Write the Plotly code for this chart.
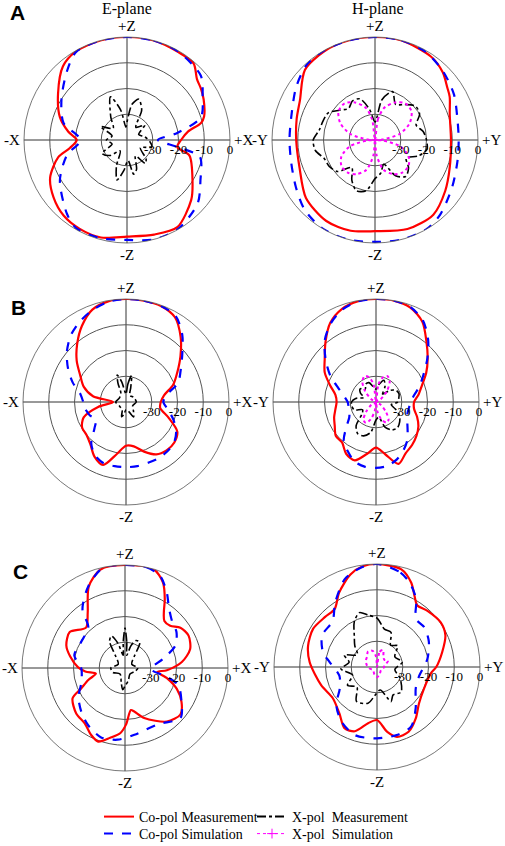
import plotly.graph_objects as go

W, H = 505, 846
R = 103  # polar radius in px

# ---------------- data: (theta deg clockwise from +Z, level dB) ----------------
# Panel A, E-plane
ae_co_meas = [(0, 0), (15, 0), (30, -0.5), (41, -0.6), (49, -4), (55, -5), (62, -6.3), (73, -8.7), (77, -10.5),
              (82, -16), (90, -19), (98, -20.3), (104, -15), (122, -10), (133, -5.9), (150, -0.9), (164, -1.8),
              (180, -2.5), (195, -0.8), (208, -0.9), (220, -1.7), (232, -3.8), (244, -6.8), (256, -12.5),
              (262, -17.6), (270, -20.5), (278, -17), (289, -12.4), (304, -7.7), (319, -2.1), (330, -0.3), (345, 0)]
ae_co_sim = [(0, 0), (15, 0), (30, -0.3), (49, -2), (60, -6.1), (73, -10), (82, -20.3), (90, -28), (98, -20),
             (103, -11), (119, -7.4), (132, -3.1), (150, -0.2), (165, 0), (180, -1.2), (195, -0.5), (210, -0.5),
             (219, -3), (239, -9.6), (256, -16), (270, -22), (285, -14.5), (302, -10), (319, -4.5), (330, -0.5),
             (345, 0)]
ae_x_meas = [(0, -33), (8, -26), (16, -23.5), (26, -27), (35, -34), (50, -31), (65, -35), (80, -33), (95, -31),
             (106, -30), (120, -34), (135, -29.5), (142, -28.5), (152, -33), (162, -28), (169, -26.5), (177, -32),
             (186, -28), (194, -24), (202, -29), (212, -35), (228, -31), (242, -29), (255, -34), (270, -32),
             (285, -34), (297, -28.5), (310, -33), (325, -29), (339, -22), (348, -28), (355, -35)]

# Panel A, H-plane
ah_co_meas = [(0, 0), (15, 0), (34, -1), (45, -2.8), (54, -5.3), (60, -6.5), (71, -9.3), (90, -10.5), (110, -9.1),
              (126, -6.3), (142, -3.2), (160, -3.2), (180, -4.6), (195, -3.5), (211, -3.3), (230, -5), (250, -8.8),
              (270, -9.4), (285, -8.5), (298, -7), (315, -1.5), (330, -0.3), (345, 0)]
ah_co_sim = [(0, 0), (15, 0), (30, -0.5), (45, -2.5), (60, -4.6), (76, -7), (90, -7.5), (105, -6.9), (122, -4.8),
             (139, -1.5), (150, 0), (165, 0), (180, -0.4), (195, 0), (210, 0), (225, -1.5), (239, -4.2),
             (255, -6.3), (270, -6.8), (285, -6.3), (304, -3.1), (318, -0.5), (330, 0), (345, 0)]
ah_x_meas = [(0, -33), (10, -24), (20, -20), (30, -24), (40, -22), (50, -19.5), (60, -20), (70, -23), (80, -21),
             (90, -20), (100, -19.5), (110, -22), (120, -26), (130, -23), (140, -21.5), (150, -24), (160, -30),
             (170, -27), (180, -25), (190, -20), (200, -19), (210, -22), (220, -26), (230, -21), (240, -19.5),
             (250, -19), (260, -16.5), (270, -16), (280, -18), (290, -18.5), (300, -19), (310, -22), (320, -24),
             (330, -22.5), (340, -23), (350, -28)]
ah_x_sim = [(0, -40), (8, -32), (16, -27), (28, -23.5), (40, -21.5), (52, -22), (64, -25), (76, -30), (86, -37),
            (90, -40), (94, -37), (104, -30), (116, -25.5), (128, -23.5), (140, -23.5), (152, -25), (164, -28),
            (174, -34), (180, -40), (186, -34), (196, -28), (208, -25), (220, -23.5), (232, -23.5), (244, -25.5),
            (256, -30), (266, -37), (270, -40), (274, -37), (284, -30), (296, -25), (308, -22), (320, -21.5),
            (332, -23.5), (344, -27), (352, -32)]

# Panel B, E-plane
be_co_meas = [(0, 0), (10, 0), (20, -0.3), (30, -2), (40, -7), (50, -12.4), (60, -17), (70, -20.5), (80, -25),
              (90, -26.5), (100, -26.5), (110, -22.5), (120, -17), (130, -15.5), (140, -15.5), (150, -16.5),
              (160, -19.5), (170, -22.5), (180, -23), (190, -19.5), (200, -14), (210, -15.5), (220, -18.5),
              (230, -20), (240, -20.3), (250, -22.5), (260, -29), (270, -35), (280, -27), (290, -22.5),
              (300, -19.5), (310, -15), (320, -10.5), (330, -5.8), (340, -1.8), (350, -0.3)]
be_co_sim = [(0, 0), (10, 0), (20, -0.3), (30, -1.4), (40, -6), (50, -11.5), (60, -15.5), (70, -18.5), (80, -24),
             (90, -25.5), (100, -23.5), (110, -20.5), (120, -17.5), (130, -15.6), (140, -15), (150, -14.8),
             (160, -14.9), (170, -14.7), (180, -14.7), (190, -14.7), (200, -14.7), (210, -16), (220, -19),
             (230, -24), (240, -26.5), (250, -25), (260, -24), (270, -23.4), (280, -22), (290, -18), (300, -14),
             (310, -10), (320, -6.5), (330, -4), (340, -2), (350, -0.5)]
be_x_meas = [(0, -37), (6, -33), (12, -29.5), (18, -34), (30, -37), (60, -36.5), (90, -36), (120, -37),
             (140, -35.5), (153, -33.5), (163, -36), (180, -37), (190, -35), (197, -34), (205, -36.5), (240, -37),
             (270, -36), (300, -37), (330, -36), (337, -32), (342, -29), (348, -32), (354, -36)]

# Panel B, H-plane
bh_co_meas = [(0, 0), (10, 0), (20, -1), (30, -4), (40, -9.5), (50, -13.8), (60, -17.5), (70, -21), (80, -23.2),
              (90, -25.2), (100, -25), (110, -23), (120, -21), (130, -19.5), (140, -18.2), (150, -17), (160, -14.4),
              (170, -19.4), (180, -22.3), (190, -19.5), (200, -15.9), (210, -16.8), (220, -19.5), (230, -19.6),
              (240, -21.5), (250, -22.7), (260, -24), (270, -24.7), (280, -24), (290, -21), (300, -17),
              (310, -14), (320, -9.5), (330, -4.5), (340, -1.5), (350, -0.2)]
bh_co_sim = [(0, 0), (10, 0), (20, -0.8), (30, -3.5), (40, -8.5), (50, -14), (60, -18.7), (70, -22), (80, -25),
             (90, -26.5), (100, -27), (110, -27), (120, -26), (130, -24), (140, -21), (150, -18.5), (160, -16.3),
             (170, -14.8), (180, -14.4), (190, -14.5), (200, -15.5), (210, -18), (220, -20.5), (230, -25),
             (240, -28), (250, -29), (260, -29.2), (270, -29), (280, -27.5), (290, -24.5), (300, -19.5),
             (310, -14.5), (320, -9), (330, -4.8), (340, -1.8), (350, -0.3)]
bh_x_meas = [(0, -35), (10, -33), (20, -31), (30, -33), (40, -36), (50, -33), (60, -31), (70, -30.5), (80, -31),
             (90, -31.5), (100, -34), (110, -32), (120, -29.5), (130, -28), (140, -27), (150, -27.5), (160, -29.5),
             (170, -34), (180, -33), (190, -28), (200, -26), (210, -25.8), (220, -28), (230, -33), (240, -34),
             (250, -31), (260, -30.5), (270, -30.5), (280, -32), (290, -35), (300, -33), (310, -32),
             (320, -33.5), (330, -32), (340, -32), (350, -34)]
bh_x_sim = [(0, -40), (8, -33), (16, -30), (24, -29), (34, -30.5), (45, -34), (60, -38), (90, -40), (120, -38),
            (135, -34.5), (145, -31.5), (153, -31), (163, -33), (172, -36.5), (180, -40), (188, -36.5), (197, -33),
            (206, -31), (215, -31.5), (225, -34.5), (240, -38), (270, -40), (300, -38), (315, -34), (326, -30.5),
            (336, -29), (344, -30), (352, -33)]

# Panel C, E-plane
ce_co_meas = [(0, 0), (16, 0), (24, -3.7), (30, -9.1), (35, -13.7), (40, -16.2), (47, -16), (54, -13.4),
              (63, -12.3), (74, -13.7), (84, -17.8), (93, -23.7), (97, -27.4), (104, -23), (112, -18.3),
              (121, -14.4), (130, -11.9), (142, -13.6), (159, -19.2), (168, -22.7), (172, -23.5), (179, -18),
              (184, -14.7), (192, -12.3), (200, -9.6), (207, -10.9), (216, -13.4), (227, -14.1), (240, -16.5),
              (245, -21.2), (252, -25), (259, -28.5), (265, -24.5), (271, -21.7), (282, -18.2), (291, -15.6),
              (303, -14.4), (316, -18.2), (326, -14.1), (336, -5.4), (346, -0.6)]
ce_co_sim = [(0, 0), (12, 0), (21, -1.8), (29, -6.5), (36, -11), (45, -14.2), (55, -15.6), (66, -18.6),
             (76, -24.6), (86, -29), (93, -30), (102, -23.3), (108, -18.2), (121, -14.4), (132, -11), (150, -14.7),
             (172, -13.8), (186, -12), (199, -11.5), (213, -13.6), (225, -16), (238, -18.7), (252, -22.2),
             (270, -23), (284, -19.7), (300, -20.2), (318, -18.7), (324, -11.9), (336, -5.1), (348, 0)]
ce_x_meas = [(0, -24.5), (4, -30), (8, -35), (15, -31), (22, -28.5), (30, -28.5), (38, -34), (60, -37), (90, -35),
             (110, -36), (140, -37), (165, -35), (180, -33), (186, -31.5), (194, -34), (220, -37), (250, -35),
             (270, -34.5), (300, -37), (322, -34), (330, -28), (337, -26.5), (344, -30), (352, -35), (356, -30)]

# Panel C, H-plane
ch_co_meas = [(0, 0), (14, -0.9), (22, -4.6), (28, -8.9), (33, -11.4), (42, -10.7), (55, -9.8), (65, -10.7),
              (77, -14), (90, -17), (97, -19), (115, -19.9), (131, -18.4), (143, -15), (154, -12), (164, -11.8),
              (171, -14.5), (180, -19.4), (189, -17.9), (199, -13.6), (208, -13.1), (219, -16.8), (235, -19),
              (252, -17.2), (274, -13.8), (287, -12), (301, -11.1), (314, -12), (324, -12.1), (333, -7.6),
              (344, -2.6), (352, -0.5)]
ch_co_sim = [(0, 0), (14, -2.2), (22, -5.3), (30, -9.6), (39, -16), (50, -16), (64, -17.6), (81, -20.2),
             (103, -23.3), (119, -22.8), (137, -18), (150, -13.4), (163, -12.5), (180, -12.3), (198, -12.2),
             (213, -14.7), (227, -18.4), (240, -23.3), (257, -25), (276, -21.5), (285, -18.3), (300, -15.4),
             (316, -15.2), (327, -10.2), (340, -3.6), (351, -0.9)]
ch_x_meas = [(0, -21), (11, -25), (22, -25.5), (32, -30), (44, -28.5), (60, -32), (79, -30), (98, -33), (116, -30),
             (136, -26.5), (150, -27.5), (158, -25.5), (172, -31), (184, -29), (194, -25.5), (211, -24.5),
             (225, -29), (238, -26.5), (252, -30), (267, -26), (280, -29), (290, -26.5), (302, -31), (314, -28),
             (324, -25), (333, -20.5), (342, -17.8), (350, -19.5)]
ch_x_sim = [(0, -40), (10, -34), (20, -33), (30, -35), (45, -36), (60, -35), (80, -37), (100, -37.5), (130, -38),
            (160, -37), (180, -36), (200, -37), (230, -38), (260, -37), (280, -36), (300, -35), (315, -34.5),
            (330, -33), (345, -33.5), (355, -36)]

radial_ticks = [-30, -20, -10, 0]
plane_titles = ["E-plane", "H-plane"]
panel_letters = ["A", "B", "C"]
legend_names = ["Co-pol Measurement", "Co-pol Simulation", "X-pol  Measurement", "X-pol  Simulation"]

# ---------------- styles ----------------
STY = {
    "co_meas": dict(color="#ff0000", width=2.2, dash="solid"),
    "co_sim": dict(color="#0000ff", width=2.2, dash="dash"),
    "x_meas": dict(color="black", width=1.6, dash="dashdot"),
    "x_sim": dict(color="#ff00ff", width=2, dash="dot"),
}
SERIF = "Liberation Serif"

# panel centres in px (cx, cy) and side labels (left, right)
panels = [
    ("polar", (127, 140), ("-X", "+X"), [("co_meas", ae_co_meas), ("co_sim", ae_co_sim), ("x_meas", ae_x_meas)]),
    ("polar2", (375, 140), ("-Y", "+Y"), [("co_meas", ah_co_meas), ("co_sim", ah_co_sim), ("x_meas", ah_x_meas),
                                         ("x_sim", ah_x_sim)]),
    ("polar3", (126, 402), ("-X", "+X"), [("co_meas", be_co_meas), ("co_sim", be_co_sim), ("x_meas", be_x_meas)]),
    ("polar4", (376, 402), ("-Y", "+Y"), [("co_meas", bh_co_meas), ("co_sim", bh_co_sim), ("x_meas", bh_x_meas),
                                         ("x_sim", bh_x_sim)]),
    ("polar5", (125, 668), ("-X", "+X"), [("co_meas", ce_co_meas), ("co_sim", ce_co_sim), ("x_meas", ce_x_meas)]),
    ("polar6", (377, 667), ("-Y", "+Y"), [("co_meas", ch_co_meas), ("co_sim", ch_co_sim), ("x_meas", ch_x_meas),
                                         ("x_sim", ch_x_sim)]),
]

fig = go.Figure()
layout = {}
ann = []
lab_font = dict(family=SERIF, size=15, color="black")
for name, (cx, cy), (lft, rgt), curves in panels:
    layout[name] = dict(
        domain=dict(x=[(cx - R) / W, (cx + R) / W], y=[1 - (cy + R) / H, 1 - (cy - R) / H]),
        bgcolor="white",
        radialaxis=dict(range=[-40, 0], tickvals=radial_ticks, ticktext=[str(v) for v in radial_ticks],
                        showline=False, gridcolor="#555", gridwidth=0.8, angle=0, side="clockwise", ticks="",
                        tickfont=dict(family=SERIF, size=13, color="black")),
        angularaxis=dict(rotation=90, direction="clockwise", tickvals=[0, 90, 180, 270],
                         showticklabels=False, showgrid=True, gridcolor="#333", gridwidth=0.8,
                         showline=True, linecolor="#555", linewidth=0.8, ticks=""),
    )
    # direction labels just outside the outer ring
    for txt, px, py in [("+Z", cx, cy - R - 11), ("-Z", cx, cy + R + 12),
                        (lft, cx - R - 12, cy), (rgt, cx + R + 13, cy)]:
        ann.append(dict(x=px / W, y=1 - py / H, xref="paper", yref="paper", text=txt, showarrow=False,
                        font=lab_font, xanchor="center", yanchor="middle"))
    for kind, pts in curves:
        th = [p[0] for p in pts] + [pts[0][0] + 360]
        rr = [p[1] for p in pts] + [pts[0][1]]
        fig.add_trace(go.Scatterpolar(r=rr, theta=th, mode="lines", subplot=name, showlegend=False,
                                      line=dict(shape="spline", smoothing=0.8, **STY[kind]), hoverinfo="skip"))

# legend-only entries, one legend box per entry so rows sit where the reference has them
leg_font = dict(family=SERIF, size=14, color="black")
leg_pos = [(99, 817), (99, 834), (252, 817), (252, 834)]
leg_ids = ["legend", "legend2", "legend3", "legend4"]
legends = {}
for i, kind in enumerate(["co_meas", "co_sim", "x_meas", "x_sim"]):
    if kind == "x_sim":
        extra = dict(mode="lines+markers",
                     marker=dict(symbol="cross-thin", size=7, line=dict(color="#ff00ff", width=1)))
    else:
        extra = dict(mode="lines")
    st = dict(STY[kind])
    st["width"] = 2 if kind != "x_sim" else 1
    fig.add_trace(go.Scatterpolar(r=[None], theta=[None], subplot="polar", name=legend_names[i],
                                  line=st, legend=leg_ids[i], **extra))
    lx, ly = leg_pos[i]
    legends[leg_ids[i]] = dict(x=lx / W, y=1 - ly / H, xanchor="left", yanchor="middle", font=leg_font,
                               bgcolor="rgba(0,0,0,0)", itemwidth=30, borderwidth=0)

for j, t in enumerate(plane_titles):
    ann.append(dict(x=[127, 378][j] / W, y=1 - 9 / H, xref="paper", yref="paper", text=t, showarrow=False,
                    font=dict(family=SERIF, size=16, color="black"), xanchor="center", yanchor="middle"))
for (lx, ly), t in zip([(17, 12), (18, 307), (20, 571)], panel_letters):
    ann.append(dict(x=lx / W, y=1 - ly / H, xref="paper", yref="paper", text="<b>%s</b>" % t, showarrow=False,
                    font=dict(family="Liberation Sans", size=21, color="black"), xanchor="center",
                    yanchor="middle"))

fig.update_layout(
    width=W, height=H, margin=dict(l=0, r=0, t=0, b=0, autoexpand=False),
    paper_bgcolor="white", plot_bgcolor="white",
    annotations=ann,
    **legends,
    **layout,
)

fig.write_html("out.html", config={"displayModeBar": False},
               post_script="document.body.style.margin='0';")
